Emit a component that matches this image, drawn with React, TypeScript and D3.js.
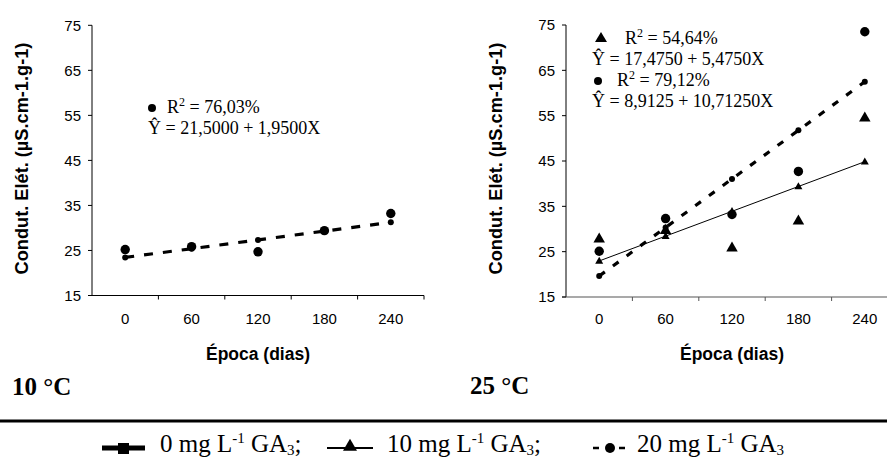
import React from "react";
import * as d3 from "d3";

// ---- data ----
const days = ["0", "60", "120", "180", "240"];
const yTicks = [15, 25, 35, 45, 55, 65, 75];

// 10 °C panel, 20 mg L-1 GA3
const obs10C_20mg = [25.2, 25.85, 24.7, 29.4, 33.2];
const fit10C_20mg = [23.45, 25.4, 27.35, 29.3, 31.25];

// 25 °C panel, 10 mg L-1 GA3
const obs25C_10mg = [27.9, 29.8, 25.9, 31.9, 54.6];
const fit25C_10mg = [22.95, 28.43, 33.9, 39.38, 44.85];

// 25 °C panel, 20 mg L-1 GA3
const obs25C_20mg = [25.1, 32.3, 33.2, 42.7, 73.5];
const fit25C_20mg = [19.63, 30.34, 41.05, 51.76, 62.48];

const eq10C = { r2: "76,03%", eq: "21,5000 + 1,9500X" };
const eq25C_10 = { r2: "54,64%", eq: "17,4750 + 5,4750X" };
const eq25C_20 = { r2: "79,12%", eq: "8,9125 + 10,71250X" };

const SANS = "'Liberation Sans', Arial, sans-serif";
const SERIF = "'Liberation Serif', 'Times New Roman', serif";

type Panel = {
  x0: number;
  x1: number;
  yBottom: number;
  yTop: number;
  titleX: number;
  axisColor: string;
};

function tri(cx: number, cy: number, w: number, h: number) {
  return `M${cx},${cy - h * 0.6}L${cx + w / 2},${cy + h * 0.4}L${cx - w / 2},${cy + h * 0.4}Z`;
}

function Axes({ p, x, y }: { p: Panel; x: d3.ScaleBand<string>; y: d3.ScaleLinear<number, number> }) {
  const bounds = days.map((d) => (x(d) as number) + x.bandwidth());
  return (
    <g>
      <line x1={p.x0} x2={p.x0} y1={y(75)} y2={y(15)} stroke="#000" strokeWidth={1} />
      <line x1={p.x0 - 4} x2={p.x1} y1={y(15)} y2={y(15)} stroke={p.axisColor} strokeWidth={1.2} />
      {yTicks.map((t) => (
        <g key={t}>
          <line x1={p.x0 - 4} x2={p.x0} y1={y(t)} y2={y(t)} stroke="#000" />
          <text x={p.x0 - 11} y={y(t)} dy="0.36em" textAnchor="end" fontFamily={SANS} fontSize={15}>
            {t}
          </text>
        </g>
      ))}
      {bounds.map((b, i) => (
        <line key={i} x1={b} x2={b} y1={y(15)} y2={y(15) + 4} stroke={p.axisColor} />
      ))}
      {days.map((d) => (
        <text
          key={d}
          x={(x(d) as number) + x.bandwidth() / 2}
          y={324}
          textAnchor="middle"
          fontFamily={SANS}
          fontSize={15}
        >
          {d}
        </text>
      ))}
      <text
        x={(p.x0 + p.x1) / 2}
        y={360}
        textAnchor="middle"
        fontFamily={SANS}
        fontWeight="bold"
        fontSize={17.5}
      >
        Época (dias)
      </text>
      <text
        transform={`translate(${p.titleX},${158.5}) rotate(-90)`}
        textAnchor="middle"
        dy="0.35em"
        fontFamily={SANS}
        fontWeight="bold"
        fontSize={18.2}
      >
        Condut. Elét. (µS.cm-1.g-1)
      </text>
    </g>
  );
}

function R2Text({ x, y, r2 }: { x: number; y: number; r2: string }) {
  return (
    <text x={x} y={y} fontFamily={SERIF} fontSize={18}>
      R
      <tspan dy={-7} fontSize={12}>
        2
      </tspan>
      <tspan dy={7}>{" = " + r2}</tspan>
    </text>
  );
}

function EqText({ x, y, eq }: { x: number; y: number; eq: string }) {
  return (
    <text x={x} y={y} fontFamily={SERIF} fontSize={18}>
      {"Ŷ = " + eq}
    </text>
  );
}

export default function App() {
  const left: Panel = { x0: 92, x1: 424, yBottom: 295.5, yTop: 25.3, titleX: 22, axisColor: "#000" };
  const right: Panel = { x0: 566, x1: 898, yBottom: 297, yTop: 25, titleX: 496, axisColor: "#555" };

  const xL = d3.scaleBand<string>().domain(days).range([left.x0, left.x1]).padding(0);
  const yL = d3.scaleLinear().domain([15, 75]).range([left.yBottom, left.yTop]);
  const xR = d3.scaleBand<string>().domain(days).range([right.x0, right.x1]).padding(0);
  const yR = d3.scaleLinear().domain([15, 75]).range([right.yBottom, right.yTop]);

  const cx = (x: d3.ScaleBand<string>, i: number) => (x(days[i]) as number) + x.bandwidth() / 2;

  const lineL = d3
    .line<number>()
    .x((_, i) => cx(xL, i))
    .y((v) => yL(v));
  const lineR = d3
    .line<number>()
    .x((_, i) => cx(xR, i))
    .y((v) => yR(v));

  return (
    <svg
      width={887}
      height={459}
      style={{ position: "absolute", left: 0, top: 0, background: "#fff" }}
    >
      <rect width={887} height={459} fill="#fff" />

      {/* Left panel: 10 °C */}
      <Axes p={left} x={xL} y={yL} />
      <path d={lineL(fit10C_20mg) || ""} fill="none" stroke="#000" strokeWidth={3.2} strokeDasharray="9,10" />
      {fit10C_20mg.map((v, i) => (
        <circle key={"fl" + i} cx={cx(xL, i)} cy={yL(v)} r={3} fill="#000" />
      ))}
      {obs10C_20mg.map((v, i) => (
        <circle key={"ol" + i} cx={cx(xL, i)} cy={yL(v)} r={4.7} fill="#000" />
      ))}
      <circle cx={152} cy={108} r={4} fill="#000" />
      <R2Text x={167} y={113} r2={eq10C.r2} />
      <EqText x={148} y={134} eq={eq10C.eq} />

      {/* Right panel: 25 °C */}
      <Axes p={right} x={xR} y={yR} />
      <path d={lineR(fit25C_10mg) || ""} fill="none" stroke="#000" strokeWidth={1} />
      <path d={lineR(fit25C_20mg) || ""} fill="none" stroke="#000" strokeWidth={3.2} strokeDasharray="7,10" />
      {fit25C_10mg.map((v, i) => (
        <path key={"ft" + i} d={tri(cx(xR, i), yR(v), 8, 7)} fill="#000" />
      ))}
      {fit25C_20mg.map((v, i) => (
        <circle key={"fc" + i} cx={cx(xR, i)} cy={yR(v)} r={3} fill="#000" />
      ))}
      {obs25C_10mg.map((v, i) => (
        <path key={"ot" + i} d={tri(cx(xR, i), yR(v), 11.5, 10)} fill="#000" />
      ))}
      {obs25C_20mg.map((v, i) => (
        <circle key={"oc" + i} cx={cx(xR, i)} cy={yR(v)} r={4.7} fill="#000" />
      ))}
      <path d={tri(601, 38, 12, 10)} fill="#000" />
      <R2Text x={625} y={44} r2={eq25C_10.r2} />
      <EqText x={592} y={65} eq={eq25C_10.eq} />
      <circle cx={598} cy={81} r={4} fill="#000" />
      <R2Text x={617} y={86} r2={eq25C_20.r2} />
      <EqText x={592} y={107} eq={eq25C_20.eq} />

      {/* Temperature labels */}
      <text x={12} y={395} fontFamily={SERIF} fontWeight="bold" fontSize={25}>
        10 °C
      </text>
      <text x={470} y={394} fontFamily={SERIF} fontWeight="bold" fontSize={25}>
        25 °C
      </text>

      {/* Separator rule */}
      <line x1={0} x2={887} y1={421} y2={421} stroke="#000" strokeWidth={3} />

      {/* Legend */}
      <g>
        <line x1={102} x2={145} y1={448} y2={448} stroke="#000" strokeWidth={5} />
        <rect x={118} y={443} width={11} height={11} fill="#000" />
        <LegendText x={160} label="0" semi />
        <line x1={327} x2={373} y1={448} y2={448} stroke="#000" strokeWidth={1.8} />
        <path d={tri(350, 446, 14, 12)} fill="#000" />
        <LegendText x={387} label="10" semi />
        <line x1={593} x2={627} y1={448} y2={448} stroke="#000" strokeWidth={2.5} strokeDasharray="6,7" />
        <circle cx={610} cy={448} r={5} fill="#000" />
        <LegendText x={637} label="20" semi={false} />
      </g>
    </svg>
  );
}

function LegendText({ x, label, semi }: { x: number; label: string; semi: boolean }) {
  return (
    <text x={x} y={452} fontFamily={SERIF} fontSize={25}>
      {label + " mg L"}
      <tspan dy={-9} fontSize={15}>
        -1
      </tspan>
      <tspan dy={9}>{" GA"}</tspan>
      <tspan dy={3} fontSize={15}>
        3
      </tspan>
      <tspan dy={-3}>{semi ? ";" : ""}</tspan>
    </text>
  );
}
